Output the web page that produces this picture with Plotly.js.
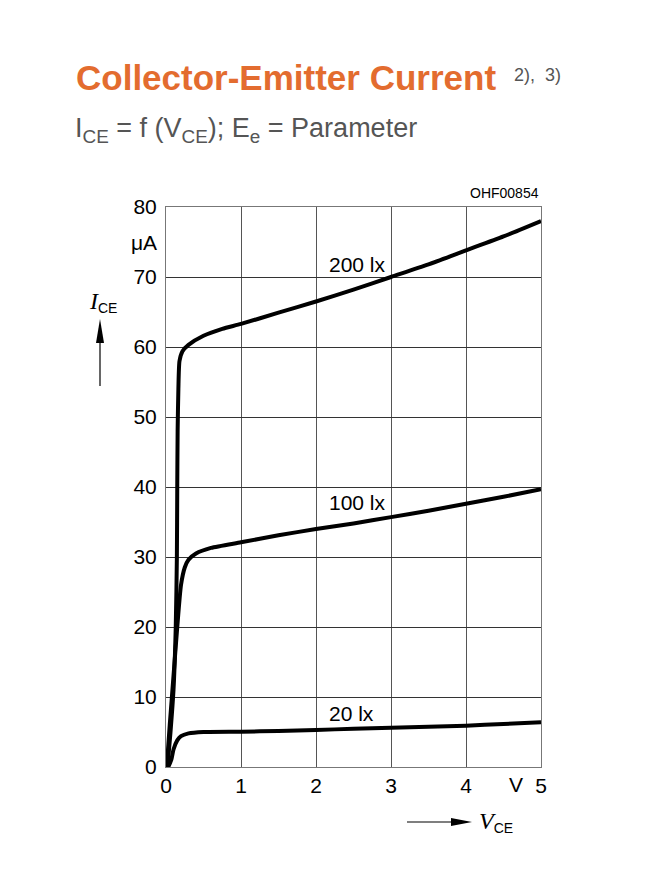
<!DOCTYPE html>
<html>
<head>
<meta charset="utf-8">
<script src="https://cdn.plot.ly/plotly-3.0.1.min.js"></script>
<style>html,body{margin:0;padding:0;background:#fff;}#chart{width:658px;height:872px;}</style>
</head>
<body>
<div id="chart"></div>
<script>
// ---- data ----
const vce200 = [0.02, 0.06, 0.10, 0.13, 0.145, 0.15, 0.155, 0.165, 0.18, 0.22, 0.30, 0.50, 0.75, 1.0, 1.5, 2.0, 2.5, 3.0, 3.5, 4.0, 4.5, 5.0];
const ice200 = [0, 5, 11, 20, 30, 40, 48, 54, 58, 59.4, 60.3, 61.6, 62.6, 63.3, 64.9, 66.5, 68.2, 70.0, 71.8, 73.8, 75.8, 78.0];

const vce100 = [0.01, 0.05, 0.10, 0.15, 0.20, 0.25, 0.30, 0.40, 0.60, 1.0, 1.5, 2.0, 2.5, 3.0, 3.5, 4.0, 4.5, 5.0];
const ice100 = [0, 6, 13, 20, 26, 28.5, 29.6, 30.5, 31.3, 32.1, 33.1, 34.0, 34.8, 35.7, 36.6, 37.6, 38.6, 39.7];

const vce20 = [0.03, 0.07, 0.10, 0.15, 0.20, 0.30, 0.50, 1.0, 1.5, 2.0, 2.5, 3.0, 3.5, 4.0, 4.5, 5.0];
const ice20 = [0, 1.0, 2.5, 3.8, 4.4, 4.8, 5.0, 5.05, 5.15, 5.3, 5.45, 5.6, 5.75, 5.9, 6.15, 6.4];

const curveLabels = ["200 lx", "100 lx", "20 lx"];
const xTickVals = [0, 1, 2, 3, 4, 5];
const xTickText = ["0", "1", "2", "3", "4", "5"];
const yTickVals = [0, 10, 20, 30, 40, 50, 60, 70, 80];
const yTickText = ["0", "10", "20", "30", "40", "50", "60", "70", "80"];
const xUnit = "V";
const yUnit = "μA";

// ---- layout helpers ----
const L = 166, R = 541, T = 207, B = 767;
const px = x => (x - L) / (R - L);
const py = y => (B - y) / (B - T);

const lineStyle = {color: '#000', width: 4, shape: 'spline', smoothing: 0.6};
const traces = [
  {x: vce200, y: ice200, mode: 'lines', line: lineStyle, name: curveLabels[0], hoverinfo: 'skip'},
  {x: vce100, y: ice100, mode: 'lines', line: lineStyle, name: curveLabels[1], hoverinfo: 'skip'},
  {x: vce20, y: ice20, mode: 'lines', line: lineStyle, name: curveLabels[2], hoverinfo: 'skip'}
];

const tickFont = {family: 'Liberation Sans, Arial, sans-serif', size: 21, color: '#000'};

const layout = {
  width: 658, height: 872,
  margin: {l: L, r: 658 - R, t: T, b: 872 - B, pad: 0},
  paper_bgcolor: '#fff', plot_bgcolor: '#fff',
  showlegend: false,
  xaxis: {
    range: [0, 5], tickvals: xTickVals, ticktext: xTickText,
    showgrid: true, gridcolor: '#555', gridwidth: 1,
    zeroline: false, showline: true, linecolor: '#777', linewidth: 1, mirror: true,
    ticks: '', tickfont: tickFont, ticklabelstandoff: 0, fixedrange: true
  },
  yaxis: {
    range: [0, 80], tickvals: yTickVals, ticktext: yTickText,
    showgrid: true, gridcolor: '#333', gridwidth: 1,
    zeroline: false, showline: true, linecolor: '#777', linewidth: 1, mirror: true,
    ticks: '', tickfont: tickFont, ticklabelstandoff: 4, fixedrange: true
  },
  annotations: [
    {xref: 'paper', yref: 'paper', x: px(74), y: py(78), xanchor: 'left', yanchor: 'middle', showarrow: false,
     text: '<b>Collector-Emitter Current</b>', font: {family: 'Liberation Sans, Arial, sans-serif', size: 35, color: '#E36C2F'}},
    {xref: 'paper', yref: 'paper', x: px(512), y: py(75), xanchor: 'left', yanchor: 'middle', showarrow: false,
     text: '2),  3)', font: {family: 'Liberation Sans, Arial, sans-serif', size: 18, color: '#555'}},
    {xref: 'paper', yref: 'paper', x: px(73), y: py(130), xanchor: 'left', yanchor: 'middle', showarrow: false,
     text: 'I<sub>CE</sub> = f (V<sub>CE</sub>); E<sub>e</sub> = Parameter', font: {family: 'Liberation Sans, Arial, sans-serif', size: 27, color: '#555'}},
    {xref: 'paper', yref: 'paper', x: px(541), y: py(193), xanchor: 'right', yanchor: 'middle', showarrow: false,
     text: 'OHF00854', font: {family: 'Liberation Sans, Arial, sans-serif', size: 14, color: '#000'}},
    {xref: 'paper', yref: 'paper', x: px(159), y: py(242), xanchor: 'right', yanchor: 'middle', showarrow: false,
     text: yUnit, font: tickFont},
    {xref: 'paper', yref: 'paper', x: px(516), y: py(785), xanchor: 'center', yanchor: 'middle', showarrow: false,
     text: xUnit, font: tickFont},
    {xref: 'paper', yref: 'paper', x: px(87), y: py(302), xanchor: 'left', yanchor: 'middle', showarrow: false,
     text: '<span style="font-family:Liberation Serif,Times New Roman,serif;font-style:italic;font-size:24px">I</span><sub>CE</sub>',
     font: {family: 'Liberation Sans, Arial, sans-serif', size: 20, color: '#000'}},
    {xref: 'paper', yref: 'paper', x: px(477), y: py(822), xanchor: 'left', yanchor: 'middle', showarrow: false,
     text: '<span style="font-family:Liberation Serif,Times New Roman,serif;font-style:italic;font-size:24px">V</span><sub>CE</sub>',
     font: {family: 'Liberation Sans, Arial, sans-serif', size: 20, color: '#000'}},
    {xref: 'x', yref: 'y', x: (357 - L) / 75, y: (B - 264) / 7, showarrow: false, text: curveLabels[0], font: tickFont},
    {xref: 'x', yref: 'y', x: (357 - L) / 75, y: (B - 502) / 7, showarrow: false, text: curveLabels[1], font: tickFont},
    {xref: 'x', yref: 'y', x: (351 - L) / 75, y: (B - 713) / 7, showarrow: false, text: curveLabels[2], font: tickFont}
  ],
  shapes: [
    {type: 'line', xref: 'paper', yref: 'paper', x0: px(100), x1: px(100), y0: py(386), y1: py(338), line: {color: '#000', width: 1.2}},
    {type: 'path', xref: 'paper', yref: 'paper', fillcolor: '#000', line: {width: 0},
     path: `M ${px(96)} ${py(343)} L ${px(104)} ${py(343)} L ${px(100)} ${py(319)} Z`},
    {type: 'line', xref: 'paper', yref: 'paper', x0: px(407), x1: px(455), y0: py(822), y1: py(822), line: {color: '#000', width: 1.2}},
    {type: 'path', xref: 'paper', yref: 'paper', fillcolor: '#000', line: {width: 0},
     path: `M ${px(451)} ${py(818)} L ${px(451)} ${py(826)} L ${px(472)} ${py(822)} Z`}
  ]
};

Plotly.newPlot('chart', traces, layout, {staticPlot: true, displayModeBar: false});
</script>
</body>
</html>
